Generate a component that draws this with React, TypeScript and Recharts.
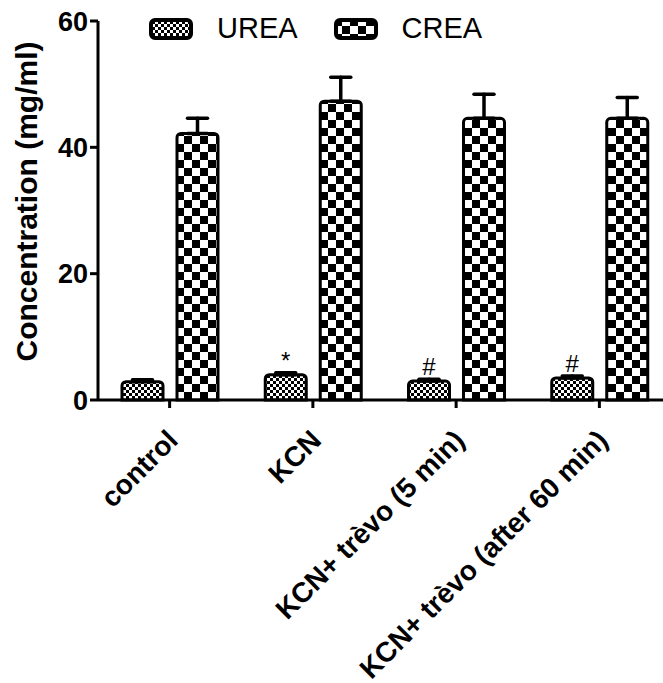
import React from "react";
import {
    BarChart,
    Bar,
    XAxis,
    YAxis,
    ErrorBar,
    Legend,
    LabelList,
} from "recharts";

const FONT = "'Liberation Sans', Arial, sans-serif";

// values
const groups = [
    "control",
    "KCN",
    "KCN+ trèvo (5 min)",
    "KCN+ trèvo (after 60 min)",
];
const seriesNames = ["UREA", "CREA"];
const ureaMean = [2.9, 4.0, 3.0, 3.5];
const ureaSem = [0.3, 0.3, 0.3, 0.3];
const creaMean = [42.2, 47.3, 44.6, 44.6];
const creaSem = [2.4, 3.8, 3.8, 3.3];
const marks = ["", "*", "#", "#"];
const yTicks = [0, 20, 40, 60];

const data = groups.map((g, i) => ({
    group: g,
    urea: ureaMean[i],
    ureaErr: [0, ureaSem[i]],
    crea: creaMean[i],
    creaErr: [0, creaSem[i]],
    mark: marks[i],
}));

const XTick = ({ x, y, payload }: any) => {
    const ax = x + 10;
    const ay = y + 32;
    return (
        <text
            x={ax}
            y={ay}
            transform={`rotate(-45, ${ax}, ${ay})`}
            textAnchor="end"
            fontFamily={FONT}
            fontWeight="bold"
            fontSize={28}
            fill="#000"
        >
            {payload.value}
        </text>
    );
};

const YLabel = ({ viewBox }: any) => {
    const cx = viewBox.x + 37;
    const cy = viewBox.y + viewBox.height / 2 - 9;
    return (
        <text
            x={cx}
            y={cy}
            transform={`rotate(-90, ${cx}, ${cy})`}
            textAnchor="middle"
            fontFamily={FONT}
            fontWeight="bold"
            fontSize={30}
            fill="#000"
        >
            Concentration (mg/ml)
        </text>
    );
};

const MarkLabel = (props: any) => {
    const { x, y, width, value } = props;
    if (!value) return null;
    return (
        <text
            x={x + width / 2}
            y={y - 6}
            textAnchor="middle"
            fontFamily={FONT}
            fontSize={24}
            fill="#000"
        >
            {value}
        </text>
    );
};

const LegendContent = ({ payload }: any) => {
    const items = [...(payload || [])].sort(
        (a: any, b: any) =>
            seriesNames.indexOf(a.value) - seriesNames.indexOf(b.value)
    );
    return (
        <div style={{ display: "flex", alignItems: "center", fontFamily: FONT }}>
            {items.map((entry: any, i: number) => (
                <div
                    key={`leg-${i}`}
                    style={{
                        display: "flex",
                        alignItems: "center",
                        marginRight: i === 0 ? 36 : 0,
                    }}
                >
                    <svg width={44} height={22} style={{ display: "block" }}>
                        <rect
                            x={2}
                            y={2}
                            width={40}
                            height={18}
                            rx={4}
                            fill={entry.color}
                            stroke="#000"
                            strokeWidth={4}
                        />
                    </svg>
                    <span
                        style={{ fontSize: 29, marginLeft: 24, color: "#000" }}
                    >
                        {entry.value}
                    </span>
                </div>
            ))}
        </div>
    );
};

export default function App() {
    return (
        <div
            style={{
                width: 663,
                height: 683,
                overflow: "hidden",
                position: "relative",
                background: "#fff",
            }}
        >
            <style>{"body{margin:0}"}</style>
            <BarChart
                width={671}
                height={683}
                data={data}
                margin={{ top: 21, right: 0, bottom: 0, left: 0 }}
                barCategoryGap={24}
                barGap={14}
            >
                <defs>
                    <pattern
                        id="ureaPat"
                        width={6}
                        height={6}
                        patternUnits="userSpaceOnUse"
                    >
                        <rect width={6} height={6} fill="#fff" />
                        <rect width={3} height={3} fill="#000" />
                        <rect x={3} y={3} width={3} height={3} fill="#000" />
                    </pattern>
                    <pattern
                        id="creaPat"
                        width={16}
                        height={16}
                        patternUnits="userSpaceOnUse"
                    >
                        <rect width={16} height={16} fill="#fff" />
                        <rect width={8} height={8} fill="#000" />
                        <rect x={8} y={8} width={8} height={8} fill="#000" />
                    </pattern>
                </defs>
                <XAxis
                    dataKey="group"
                    height={283}
                    interval={0}
                    tickSize={8}
                    tickLine={{ stroke: "#000", strokeWidth: 3 }}
                    axisLine={{ stroke: "#000", strokeWidth: 3 }}
                    tick={<XTick />}
                />
                <YAxis
                    domain={[0, 60]}
                    ticks={yTicks}
                    width={98}
                    tickSize={8}
                    tickMargin={2}
                    tickLine={{ stroke: "#000", strokeWidth: 3 }}
                    axisLine={{ stroke: "#000", strokeWidth: 3 }}
                    tick={{
                        fill: "#000",
                        fontSize: 27,
                        fontWeight: "bold",
                        fontFamily: FONT,
                    }}
                    label={<YLabel />}
                />
                <Legend
                    layout="horizontal"
                    verticalAlign="middle"
                    content={<LegendContent />}
                    wrapperStyle={{ top: 12, left: 149, width: 420 }}
                />
                <Bar
                    dataKey="urea"
                    name="UREA"
                    fill="url(#ureaPat)"
                    stroke="#000"
                    strokeWidth={3}
                    radius={[4, 4, 0, 0]}
                    isAnimationActive={false}
                >
                    <ErrorBar
                        dataKey="ureaErr"
                        direction="y"
                        width={10}
                        stroke="#000"
                        strokeWidth={3.5}
                        strokeLinecap="round"
                    />
                    <LabelList dataKey="mark" content={<MarkLabel />} />
                </Bar>
                <Bar
                    dataKey="crea"
                    name="CREA"
                    fill="url(#creaPat)"
                    stroke="#000"
                    strokeWidth={3}
                    radius={[4, 4, 0, 0]}
                    isAnimationActive={false}
                >
                    <ErrorBar
                        dataKey="creaErr"
                        direction="y"
                        width={10}
                        stroke="#000"
                        strokeWidth={3.5}
                        strokeLinecap="round"
                    />
                </Bar>
            </BarChart>
        </div>
    );
}
